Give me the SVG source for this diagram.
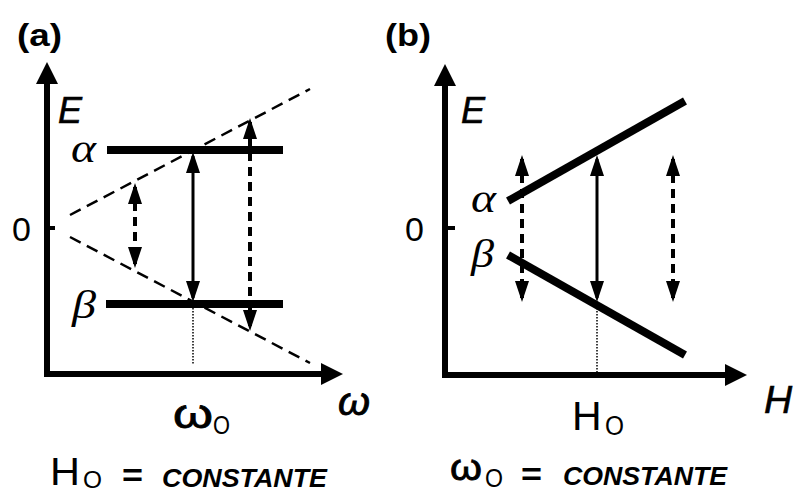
<svg xmlns="http://www.w3.org/2000/svg" width="795" height="493" viewBox="0 0 795 493">
<defs>
<style>
.ax{stroke:#000;stroke-width:6;fill:none}
.lvl{stroke:#000;stroke-width:8;fill:none}
.diag{stroke:#000;stroke-width:2.5;stroke-dasharray:12 7;fill:none}
.sol{stroke:#000;stroke-width:3;fill:none}
.dsh{stroke:#000;stroke-width:4;stroke-dasharray:9 6;fill:none}
.dot{stroke:#000;stroke-width:1.5;stroke-dasharray:1.5 1.5;fill:none}
.head{fill:#000}
.sans{font-family:"Liberation Sans",Arial,sans-serif;fill:#000}
.greek{font-family:"Liberation Serif","Times New Roman",serif;font-style:italic;fill:#000;font-size:40px}
.ttl{font-weight:bold;font-size:31px}
.it{font-style:italic}
.cst{font-weight:bold;font-style:italic;font-size:25px}
</style>
<marker id="ah" viewBox="0 0 21 14" refX="17" refY="7" markerWidth="21" markerHeight="14" markerUnits="userSpaceOnUse" orient="auto-start-reverse">
<path d="M0,0 L21,7 L0,14 Z" fill="#000"/>
</marker>
</defs>

<g id="panel-a">
  <text class="sans ttl" x="17" y="46" textLength="45" lengthAdjust="spacingAndGlyphs">(a)</text>
  <g id="a-axes">
    <line class="ax" x1="47" y1="377" x2="47" y2="80"/>
    <polygon class="head" points="47,62 36,84 58,84"/>
    <line class="ax" x1="44" y1="374" x2="325" y2="374"/>
    <polygon class="head" points="343,374 321,363 321,385"/>
    <line class="ax" x1="47" y1="228" x2="55" y2="228" style="stroke-width:4"/>
    <text class="sans it" x="58" y="123" font-size="36" stroke="#000" stroke-width="0.6">E</text>
    <text class="sans" x="12" y="241" font-size="34">0</text>
    <text class="sans it" x="338" y="415" font-size="38" textLength="32" lengthAdjust="spacingAndGlyphs" stroke="#000" stroke-width="0.8">ω</text>
  </g>
  <g id="a-alpha">
    <line class="lvl" x1="107" y1="150" x2="283" y2="150"/>
    <text class="greek" x="71" y="162" textLength="25" lengthAdjust="spacingAndGlyphs">α</text>
  </g>
  <g id="a-beta">
    <line class="lvl" x1="106" y1="304" x2="283" y2="304"/>
    <text class="greek" x="72" y="318" textLength="24" lengthAdjust="spacingAndGlyphs">β</text>
  </g>
  <g id="a-labels">
    <text class="sans" x="173" y="428" font-size="40" textLength="40" lengthAdjust="spacingAndGlyphs" stroke="#000" stroke-width="0.8">ω</text>
    <text class="sans" x="213" y="434" font-size="26" textLength="17" lengthAdjust="spacingAndGlyphs">O</text>
    <text class="sans" x="50" y="485" font-size="39" textLength="30" lengthAdjust="spacingAndGlyphs">H</text>
    <text class="sans" x="83" y="488" font-size="24" textLength="19" lengthAdjust="spacingAndGlyphs">O</text>
    <text class="sans" x="122" y="486" font-size="32" font-weight="bold" textLength="21" lengthAdjust="spacingAndGlyphs">=</text>
    <text class="sans cst" x="162" y="487" textLength="165" lengthAdjust="spacingAndGlyphs">CONSTANTE</text>
  </g>
</g>

<g id="panel-b">
  <text class="sans ttl" x="385" y="46" textLength="46" lengthAdjust="spacingAndGlyphs">(b)</text>
  <g id="b-axes">
    <line class="ax" x1="445" y1="378" x2="445" y2="82"/>
    <polygon class="head" points="445,64 434,86 456,86"/>
    <line class="ax" x1="442" y1="375" x2="729" y2="375"/>
    <polygon class="head" points="747,375 725,364 725,386"/>
    <line class="ax" x1="445" y1="228" x2="455" y2="228" style="stroke-width:4"/>
    <text class="sans it" x="461" y="123" font-size="36" stroke="#000" stroke-width="0.6">E</text>
    <text class="sans" x="405" y="241" font-size="34">0</text>
    <text class="sans it" x="764" y="413" font-size="39" stroke="#000" stroke-width="0.6">H</text>
  </g>
  <g id="b-alpha">
    <line class="lvl" x1="508" y1="201" x2="685" y2="101"/>
    <text class="greek" x="471" y="212" textLength="25" lengthAdjust="spacingAndGlyphs">α</text>
  </g>
  <g id="b-beta">
    <line class="lvl" x1="508" y1="255" x2="685" y2="355"/>
    <text class="greek" x="471" y="267" textLength="23" lengthAdjust="spacingAndGlyphs">β</text>
  </g>
  <g id="b-labels">
    <text class="sans" x="572" y="430" font-size="41">H</text>
    <text class="sans" x="605" y="435" font-size="27" textLength="19" lengthAdjust="spacingAndGlyphs">O</text>
    <text class="sans" x="450" y="480" font-size="36" textLength="32" lengthAdjust="spacingAndGlyphs" stroke="#000" stroke-width="0.8">ω</text>
    <text class="sans" x="485" y="487" font-size="26" textLength="18" lengthAdjust="spacingAndGlyphs">O</text>
    <text class="sans" x="521" y="485" font-size="32" font-weight="bold" textLength="21" lengthAdjust="spacingAndGlyphs">=</text>
    <text class="sans cst" x="563" y="485" textLength="164" lengthAdjust="spacingAndGlyphs">CONSTANTE</text>
  </g>
</g>

<g id="connectors">
  <line class="diag" x1="70" y1="215" x2="310" y2="89"/>
  <line class="diag" x1="70" y1="237" x2="310" y2="363"/>
  <line class="sol" x1="193" y1="156" x2="193" y2="298" marker-start="url(#ah)" marker-end="url(#ah)"/>
  <line class="dot" x1="193" y1="308" x2="193" y2="364"/>
  <line class="dsh" x1="135" y1="187" x2="135" y2="264" marker-start="url(#ah)" marker-end="url(#ah)"/>
  <line class="dsh" x1="250" y1="122" x2="250" y2="327" marker-start="url(#ah)" marker-end="url(#ah)"/>
  <line class="sol" x1="597" y1="159" x2="597" y2="298" marker-start="url(#ah)" marker-end="url(#ah)"/>
  <line class="dot" x1="597" y1="308" x2="597" y2="372"/>
  <line class="dsh" x1="522" y1="159" x2="522" y2="298" marker-start="url(#ah)" marker-end="url(#ah)"/>
  <line class="dsh" x1="673" y1="159" x2="673" y2="298" marker-start="url(#ah)" marker-end="url(#ah)"/>
</g>
</svg>
